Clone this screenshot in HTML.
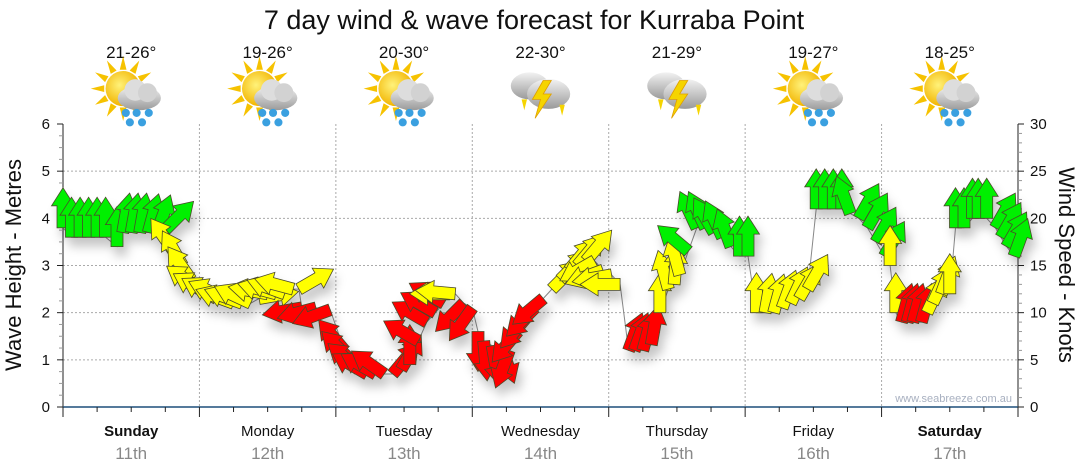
<!DOCTYPE html>
<html><head><meta charset="utf-8">
<style>
html,body{margin:0;padding:0;background:#fff;}
svg{display:block;font-family:"Liberation Sans",sans-serif;}
</style></head>
<body>
<svg id="chart" width="1080" height="475" viewBox="0 0 1080 475" xmlns="http://www.w3.org/2000/svg">
<defs>
<filter id="sh" x="-50%" y="-50%" width="200%" height="200%">
<feDropShadow dx="4" dy="9" stdDeviation="5" flood-color="#000" flood-opacity="0.22"/>
</filter>
<radialGradient id="sunG" cx="0.4" cy="0.4" r="0.6"><stop offset="0" stop-color="#fff27a"/><stop offset="1" stop-color="#f2b400"/></radialGradient>
<linearGradient id="cloudG" x1="0" y1="0" x2="0" y2="1"><stop offset="0" stop-color="#f2f2f2"/><stop offset="1" stop-color="#9a9a9a"/></linearGradient>
</defs>
<text x="534" y="29" font-size="27" text-anchor="middle" fill="#111">7 day wind &amp; wave forecast for Kurraba Point</text>
<g id="icons"></g>
<g id="grid"></g>
<g id="axes"></g>
<text transform="translate(21,265) rotate(-90)" font-size="22" text-anchor="middle" fill="#111">Wave Height - Metres</text>
<text transform="translate(1059,265) rotate(90)" font-size="22" text-anchor="middle" fill="#111">Wind Speed - Knots</text>
<text x="1012" y="402" font-size="11" text-anchor="end" fill="#a8b0c0">www.seabreeze.com.au</text>
<g id="series"></g>
</svg>
<script>
const days = ["Sunday","Monday","Tuesday","Wednesday","Thursday","Friday","Saturday"];
const dates = ["11th","12th","13th","14th","15th","16th","17th"];
const boldDays = [true,false,false,false,false,false,true];
const temps = ["21-26°","19-26°","20-30°","22-30°","21-29°","19-27°","18-25°"];
const weather = ["sunrain","sunrain","sunrain","storm","storm","sunrain","sunrain"];
const leftTicks = [0,1,2,3,4,5,6];
const rightTicks = [0,5,10,15,20,25,30];
const hours = [0,1.5,3,4.5,6,7.5,9.5,10.5,12,13.5,15,16.5,18,
 19.5,21,22.5,24,25.5,27,28.5,30,31.5,33,34.5,36,37.5,39,40.5,41.5,42,44.5,47,
 49.5,50.5,52,53.5,55,56.5,58,59.5,61,62.5,64,65.5,67,68,69,70.5,72,73,
 74,75.5,77,78.5,80,81.5,83,84.5,86,87.5,89,90.5,92,93.5,95,96.5,98,
 99.5,100.5,102,103.5,105,106.5,107.5,108.5,110,111.5,113,114.5,116,117.5,119,
 120.5,122,123.5,125,126.5,128,129.5,131,132.5,134,135.5,137,138.5,140,141.5,143,144.5,
 145.5,146.5,147.5,148.5,149.5,151,152,153,154.5,156,157,158.5,160,161,162.5,164,165,166,167.3];
const speeds = [19,18,18,18,18,18,17,18.5,18.5,18.5,18.5,18.5,18.8,
 16.5,15,13.5,12.5,12,11.5,11.5,11,11,11,11.5,12,12,12,12.5,12.5,10.5,10.5,10.3,
 6,5,4,3.5,3.5,3.5,3.5,4,4.5,7,9,10,11,12,12,11,10.5,8,
 7,6.5,6.5,6,8,9.5,10.5,11.5,12.5,13.5,14.5,15,15.5,15.5,14.5,14,13,
 6,6,6,6.6,10,12.5,13,14,16.5,19,19,18.5,18,17,16,16,
 10,10,10,10.5,11,11.5,12.5,21,21,21,21,20.5,20,19,17.5,16,15,
 10,9,9,9,9,10,11,12,12,19,19,20,20,20,19,18,17,16,10];
const dirs = [0,0,0,0,0,0,0,10,10,10,15,20,45,
 -35,-30,-35,-55,-60,-60,-65,-70,-70,-65,80,-80,-75,-70,-75,60,-100,-105,-110,
 -40,-45,-50,-60,-60,-55,40,30,0,-60,-60,-60,-60,-90,-85,-135,-145,180,
 175,170,160,200,-140,-140,-135,-130,45,45,40,40,40,-120,-110,-100,-90,
 20,20,15,10,0,-15,5,-15,-50,-25,-25,-30,-25,-20,0,0,
 0,10,15,20,25,30,30,0,0,0,0,-20,30,30,30,30,0,
 0,15,15,15,15,25,25,20,0,0,0,0,0,0,30,30,30,20,0];
const colors = ["g","g","g","g","g","g","g","g","g","g","g","g","g",
 "y","y","y","y","y","y","y","y","y","y","y","y","y","y","y","y","r","r","r",
 "r","r","r","r","r","r","r","r","r","r","r","r","r","y","y","r","r","r",
 "r","r","r","r","r","r","r","r","y","y","y","y","y","y","y","y","y",
 "r","r","r","r","y","y","y","y","g","g","g","g","g","g","g","g",
 "y","y","y","y","y","y","y","g","g","g","g","g","g","g","g","g","y",
 "y","r","r","r","r","y","y","y","y","g","g","g","g","g","g","g","g","g","y"];

const NS="http://www.w3.org/2000/svg";
const X0=63,X1=1018,Y0=407,Y1=124;
const xH = h => X0 + (X1-X0)*h/168;
const yM = m => Y0 - (Y0-Y1)*m/6;
const yK = k => Y0 - (Y0-Y1)*k/30;
const dayW=(X1-X0)/7;
function mk(tag,attrs,parent){const e=document.createElementNS(NS,tag);for(const k in attrs)e.setAttribute(k,attrs[k]);parent.appendChild(e);return e;}
const grid=document.getElementById('grid'),axes=document.getElementById('axes'),series=document.getElementById('series'),icons=document.getElementById('icons');

for(let m=1;m<=5;m++){
 const l=mk('line',{x1:X0,x2:X1,y1:yM(m),y2:yM(m),stroke:'#aaa','stroke-dasharray':'2,2'},grid);
 
 
}
for(let d=1;d<7;d++){
 const x=X0+d*dayW;
 const l=mk('line',{x1:x,x2:x,y1:Y1,y2:Y0,stroke:'#aaa','stroke-dasharray':'2,2'},grid);
 
 
}
mk('line',{x1:X0,x2:X0,y1:Y1,y2:Y0,stroke:'#222'},axes);
for(let i=0;i<=24;i++){const m=i/4;const y=yM(m);mk('line',{x1:X0-(i%4==0?6:4),x2:X0,y1:y,y2:y,stroke:i%4==0?'#222':'#999'},axes);}
leftTicks.forEach(v=>{const t=mk('text',{x:50,y:yM(v)+5,'font-size':15,'text-anchor':'end',fill:'#111'},axes);t.textContent=v;
 
 });
mk('line',{x1:X1,x2:X1,y1:Y1,y2:Y0,stroke:'#222'},axes);
for(let k=0;k<=30;k++){const y=yK(k);mk('line',{x1:X1,x2:X1+(k%5==0?6:4),y1:y,y2:y,stroke:k%5==0?'#222':'#999'},axes);}
rightTicks.forEach(v=>{const t=mk('text',{x:1030,y:yK(v)+5,'font-size':15,fill:'#111'},axes);t.textContent=v;
 
 });
mk('line',{x1:X0,x2:X1,y1:Y0,y2:Y0,stroke:'#1d4f7a','stroke-width':1.5},axes);
for(let i=0;i<=28;i++){const x=X0+i*dayW/4;mk('line',{x1:x,x2:x,y1:Y0,y2:Y0+(i%4==0?10:5),stroke:'#222'},axes);}
days.forEach((d,i)=>{
 const cx=X0+(i+0.5)*dayW;
 const t=mk('text',{x:cx,y:436,'font-size':15,'text-anchor':'middle',fill:'#111','font-weight':boldDays[i]?'bold':'normal'},axes);t.textContent=d;
 
 
 const t2=mk('text',{x:cx,y:459,'font-size':17,'text-anchor':'middle',fill:'#888'},axes);t2.textContent=dates[i];
 
 
 const tt=mk('text',{x:cx,y:58,'font-size':17,'text-anchor':'middle',fill:'#111'},icons);tt.textContent=temps[i];
 
 
 const g=mk('g',{transform:`translate(${cx},94) scale(1.35)`},icons);
 
 
 if(weather[i]==='sunrain'){
  for(let a=0;a<360;a+=30){mk('polygon',{points:'-2.5,-14 2.5,-14 0,-24',fill:'#f6c200',transform:`translate(-6,-4) rotate(${a})`},g);}
  mk('circle',{cx:-6,cy:-4,r:13,fill:'url(#sunG)'},g);
  mk('ellipse',{cx:6,cy:3,rx:16,ry:9,fill:'url(#cloudG)'},g);
  mk('circle',{cx:3,cy:-3,r:8,fill:'#ddd'},g);
  mk('circle',{cx:12,cy:-1,r:7,fill:'#d2d2d2'},g);
  [[-4,14],[4,14],[13,14],[-1,21],[8,21]].forEach(p=>mk('circle',{cx:p[0],cy:p[1],r:3,fill:'#3aa0e0'},g));
 } else {
  mk('ellipse',{cx:-8,cy:-6,rx:14,ry:10,fill:'url(#cloudG)'},g);
  mk('ellipse',{cx:6,cy:0,rx:16,ry:11,fill:'url(#cloudG)'},g);
  mk('polygon',{points:'2,-10 -6,4 0,4 -4,18 8,0 2,0 8,-10',fill:'#f5d400',stroke:'#e0a000','stroke-width':0.6},g);
  mk('polygon',{points:'-14,4 -10,4 -12,12',fill:'#f5d400'},g);
  mk('polygon',{points:'14,8 18,8 16,16',fill:'#f5d400'},g);
 }
});
let d='';
hours.forEach((h,i)=>{d+=(i?'L':'M')+xH(h).toFixed(1)+','+yK(speeds[i]).toFixed(1);});
const ln=mk('path',{d:d,fill:'none',stroke:'#888','stroke-width':1},series);


const fills={g:'#00f000',y:'#ffff00',r:'#ff0000'};
const ag=mk('g',{filter:'url(#sh)'},series);
hours.forEach((h,i)=>{
 const p=mk('polygon',{points:'-6,0 6,0 6,-22 11.5,-22 0,-40 -11.5,-22 -6,-22',fill:fills[colors[i]],stroke:'#4a4a2a','stroke-width':0.8,'stroke-linejoin':'miter',transform:`translate(${xH(h).toFixed(1)},${yK(speeds[i]).toFixed(1)}) rotate(${dirs[i]})`},ag);
 
 
});
</script>
</body></html>
